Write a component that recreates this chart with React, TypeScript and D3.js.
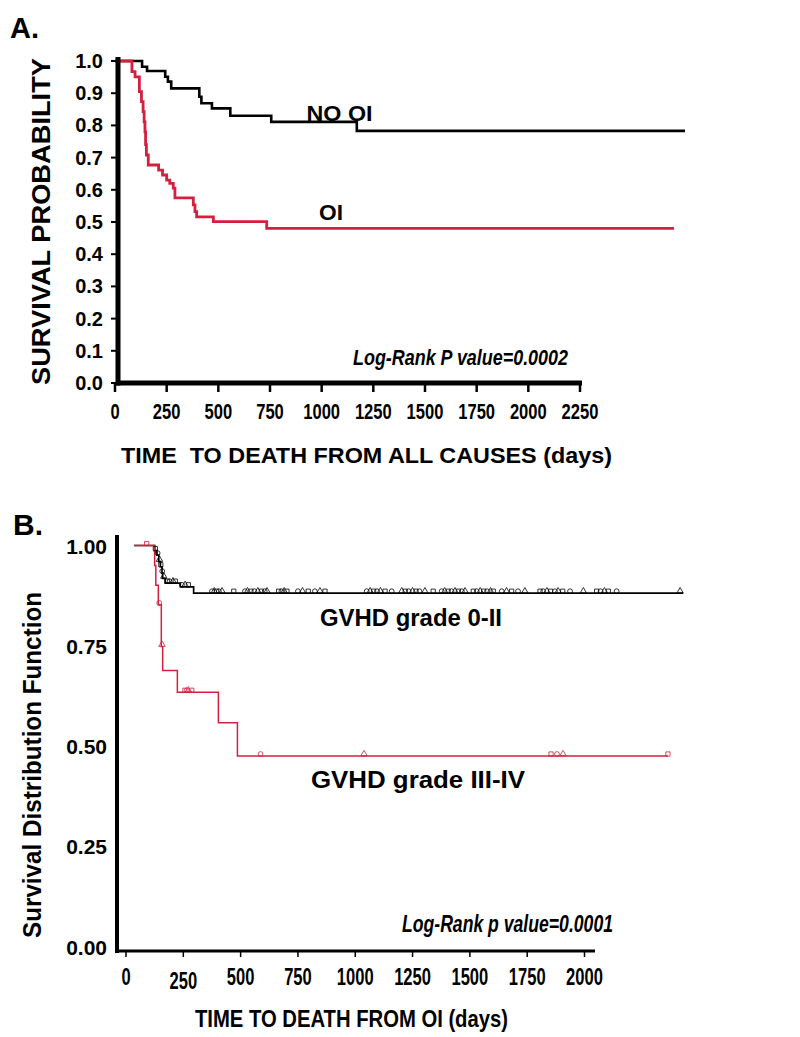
import * as d3 from "d3";

// Panel A: Kaplan-Meier, all-cause mortality (days)
const aNoOiDays = [0, 131, 155, 243, 256, 272, 408, 418, 469, 558, 756, 1170, 2758];
const aNoOiSurv = [1.0, 0.982, 0.969, 0.951, 0.936, 0.915, 0.889, 0.869, 0.853, 0.83, 0.811, 0.783, 0.783];
const aOiDays = [0, 82, 97, 118, 128, 136, 141, 145, 148, 152, 161, 211, 230, 250, 265, 282, 290, 379, 387, 395, 476, 734, 2705];
const aOiSurv = [1, 0.967, 0.951, 0.905, 0.874, 0.843, 0.811, 0.78, 0.74, 0.708, 0.677, 0.661, 0.646, 0.63, 0.62, 0.605, 0.575, 0.553, 0.532, 0.516, 0.501, 0.48, 0.48];
const aXTicks = [0, 250, 500, 750, 1000, 1250, 1500, 1750, 2000, 2250];
const aYTicks = [0, 0.1, 0.2, 0.3, 0.4, 0.5, 0.6, 0.7, 0.8, 0.9, 1.0];

// Panel B: survival after OI by GVHD grade
const bLowDays = [35, 125, 135, 143, 150, 157, 160, 171, 237, 295, 2430];
const bLowSurv = [1, 0.987, 0.976, 0.96, 0.947, 0.931, 0.918, 0.906, 0.897, 0.881, 0.881];
const bHighDays = [35, 125, 130, 141, 154, 160, 224, 403, 486, 2364];
const bHighSurv = [1, 0.95, 0.901, 0.852, 0.748, 0.688, 0.634, 0.558, 0.475, 0.475];
const bLowCensor = [128, 138, 146, 152, 158, 165, 180, 190, 205, 215, 244, 258, 272, 375, 385, 395, 405, 419, 470, 519, 530, 545, 560, 575, 590, 605, 615, 666, 678, 690, 702, 750, 770, 795, 824, 846, 868, 1050, 1065, 1080, 1095, 1110, 1130, 1159, 1203, 1218, 1233, 1250, 1265, 1280, 1304, 1340, 1377, 1390, 1405, 1420, 1435, 1450, 1465, 1479, 1515, 1530, 1545, 1560, 1575, 1590, 1602, 1639, 1660, 1682, 1710, 1740, 1806, 1820, 1836, 1852, 1871, 1885, 1905, 1937, 1995, 2053, 2070, 2087, 2104, 2140, 2417];
const bHighCensor = [90, 145, 157, 257, 265, 272, 287, 587, 1038, 1854, 1880, 1906, 2364];
const bXTicks = [0, 250, 500, 750, 1000, 1250, 1500, 1750, 2000];
const bYTicks = [0, 0.25, 0.5, 0.75, 1.0];

const RED = "#d3203f";
const sans = "'Liberation Sans', Arial, sans-serif";
const narrow = "'Liberation Sans Narrow', 'Arial Narrow', 'Liberation Sans', Arial, sans-serif";

function survAt(days: number[], surv: number[], t: number) {
  const i = d3.bisectRight(days, t) - 1;
  return surv[Math.max(0, i)];
}

export default function App() {
  const xA = d3.scaleLinear().domain([0, 2250]).range([115, 580]);
  const yA = d3.scaleLinear().domain([0, 1]).range([383, 61]);
  const xB = d3.scaleLinear().domain([0, 2000]).range([126, 584.5]);
  const yB = d3.scaleLinear().domain([0, 1]).range([946.5, 545.5]);

  const lineA = d3
    .line<[number, number]>()
    .x((d) => xA(d[0]))
    .y((d) => yA(d[1]))
    .curve(d3.curveStepAfter);
  const lineB = d3
    .line<[number, number]>()
    .x((d) => xB(d[0]))
    .y((d) => yB(d[1]))
    .curve(d3.curveStepAfter);

  const zip = (a: number[], b: number[]) => a.map((v, i) => [v, b[i]] as [number, number]);

  const shapes = [d3.symbolSquare, d3.symbolCircle, d3.symbolTriangle];
  const censorMark = (t: number, days: number[], surv: number[], color: string, i: number) => {
    const path = d3.symbol().type(shapes[i % 3]).size(18)();
    return (
      <path
        key={`${color}-${i}`}
        d={path || ""}
        transform={`translate(${xB(t)},${yB(survAt(days, surv, t)) - 2})`}
        fill="none"
        stroke={color}
        strokeWidth={0.8}
      />
    );
  };

  return (
    <svg
      width={800}
      height={1037}
      style={{ position: "absolute", left: 0, top: 0, background: "white" }}
    >
      {/* ---------- Panel A ---------- */}
      <text x={10} y={38} fontFamily={sans} fontWeight="bold" fontSize={29}>A.</text>

      <path d={lineA(zip(aNoOiDays, aNoOiSurv)) || ""} fill="none" stroke="#000" strokeWidth={2.6} />
      <path d={lineA(zip(aOiDays, aOiSurv)) || ""} fill="none" stroke={RED} strokeWidth={2.8} />

      <line x1={118} x2={118} y1={57} y2={385.5} stroke="#000" strokeWidth={5} />
      <line x1={116} x2={582} y1={383} y2={383} stroke="#000" strokeWidth={5} />
      {aYTicks.map((t) => (
        <g key={`ay${t}`}>
          <line x1={111} x2={118} y1={yA(t)} y2={yA(t)} stroke="#000" strokeWidth={2} />
          <text
            x={103}
            y={yA(t) + 7}
            textAnchor="end"
            fontFamily={sans}
            fontWeight="bold"
            fontSize={20}
          >
            {t.toFixed(1)}
          </text>
        </g>
      ))}
      {aXTicks.map((t) => (
        <g key={`ax${t}`}>
          <line x1={xA(t)} x2={xA(t)} y1={383} y2={392} stroke="#000" strokeWidth={2.5} />
          <text
            x={xA(t)}
            y={419}
            textAnchor="middle"
            fontFamily={narrow}
            fontWeight="bold"
            fontSize={22}
            textLength={String(t).length * 9.2}
            lengthAdjust="spacingAndGlyphs"
          >
            {t}
          </text>
        </g>
      ))}
      <text
        transform="translate(50,221.5) rotate(-90)"
        textAnchor="middle"
        fontFamily={sans}
        fontWeight="bold"
        fontSize={26}
        textLength={327}
        lengthAdjust="spacingAndGlyphs"
      >
        SURVIVAL PROBABILITY
      </text>
      <text
        x={121}
        y={463}
        fontFamily={sans}
        fontWeight="bold"
        fontSize={22}
        textLength={491}
        lengthAdjust="spacingAndGlyphs"
        style={{ whiteSpace: "pre" }}
      >
        TIME  TO DEATH FROM ALL CAUSES (days)
      </text>
      <text x={306.5} y={120.5} fontFamily={sans} fontWeight="bold" fontSize={22} textLength={66} lengthAdjust="spacingAndGlyphs">
        NO OI
      </text>
      <text x={319} y={220} fontFamily={sans} fontWeight="bold" fontSize={22} textLength={24} lengthAdjust="spacingAndGlyphs">
        OI
      </text>
      <text
        x={353}
        y={365}
        fontFamily={narrow}
        fontWeight="bold"
        fontStyle="italic"
        fontSize={22}
        textLength={215}
        lengthAdjust="spacingAndGlyphs"
      >
        Log-Rank P value=0.0002
      </text>

      {/* ---------- Panel B ---------- */}
      <text x={13} y={535} fontFamily={sans} fontWeight="bold" fontSize={30}>B.</text>

      <path d={lineB(zip(bLowDays, bLowSurv)) || ""} fill="none" stroke="#000" strokeWidth={1.7} />
      <path d={lineB(zip(bHighDays, bHighSurv)) || ""} fill="none" stroke={RED} strokeWidth={1.5} />
      {bLowCensor.map((t, i) => censorMark(t, bLowDays, bLowSurv, "#000", i))}
      {bHighCensor.map((t, i) => censorMark(t, bHighDays, bHighSurv, RED, i))}

      <line x1={117} x2={117} y1={535} y2={953} stroke="#000" strokeWidth={4} />
      <line x1={115} x2={595} y1={951} y2={951} stroke="#000" strokeWidth={3} />
      {bYTicks.map((t) => (
        <text
          key={`by${t}`}
          x={107}
          y={yB(t) + 8}
          textAnchor="end"
          fontFamily={sans}
          fontWeight="bold"
          fontSize={21}
        >
          {t.toFixed(2)}
        </text>
      ))}
      {bXTicks.map((t) => (
        <g key={`bx${t}`}>
          <line x1={xB(t)} x2={xB(t)} y1={951} y2={957} stroke="#000" strokeWidth={1.5} />
          <text
            x={xB(t)}
            y={t === 250 ? 989 : 985}
            textAnchor="middle"
            fontFamily={narrow}
            fontWeight="bold"
            fontSize={23}
            textLength={String(t).length * 9.2}
            lengthAdjust="spacingAndGlyphs"
          >
            {t}
          </text>
        </g>
      ))}
      <text
        transform="translate(41,765) rotate(-90)"
        textAnchor="middle"
        fontFamily={sans}
        fontWeight="bold"
        fontSize={26}
        textLength={346}
        lengthAdjust="spacingAndGlyphs"
      >
        Survival Distribution Function
      </text>
      <text
        x={195}
        y={1027}
        fontFamily={narrow}
        fontWeight="bold"
        fontSize={24}
        textLength={313}
        lengthAdjust="spacingAndGlyphs"
      >
        TIME TO DEATH FROM OI (days)
      </text>
      <text x={320} y={626} fontFamily={sans} fontWeight="bold" fontSize={23} textLength={182} lengthAdjust="spacingAndGlyphs">
        GVHD grade 0-II
      </text>
      <text x={311} y={788} fontFamily={sans} fontWeight="bold" fontSize={24} textLength={214} lengthAdjust="spacingAndGlyphs">
        GVHD grade III-IV
      </text>
      <text
        x={402}
        y={932}
        fontFamily={narrow}
        fontWeight="bold"
        fontStyle="italic"
        fontSize={23}
        textLength={211}
        lengthAdjust="spacingAndGlyphs"
      >
        Log-Rank p value=0.0001
      </text>
    </svg>
  );
}
